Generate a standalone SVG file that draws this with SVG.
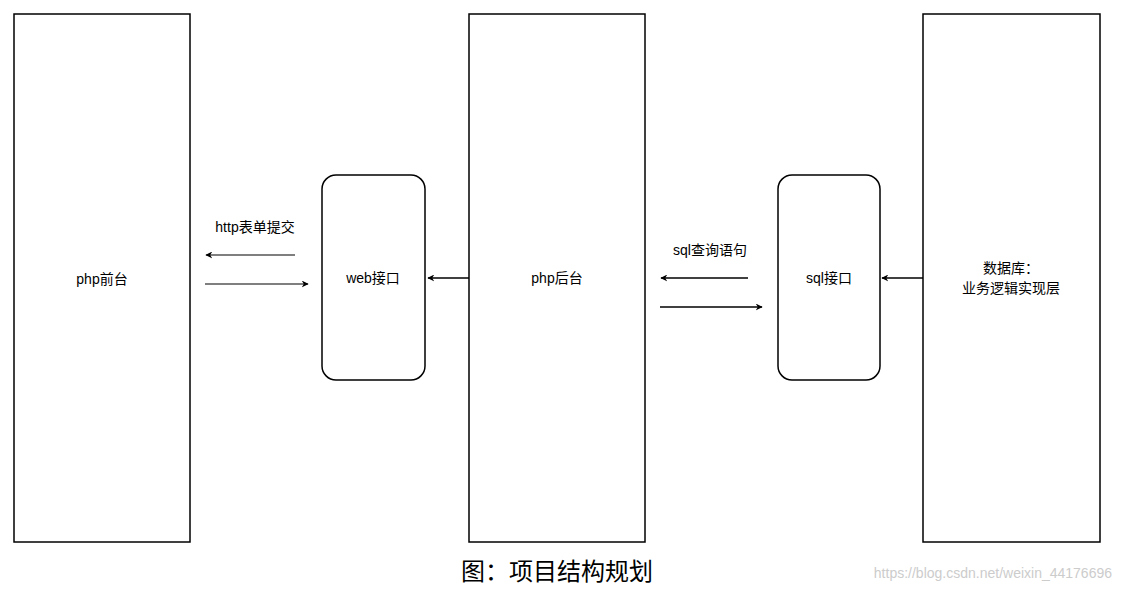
<svg xmlns="http://www.w3.org/2000/svg" width="1121" height="590" viewBox="0 0 1121 590">
<style>
.b{fill:#fff;stroke:#000;stroke-width:1.5}
.t{font-family:"Liberation Sans","Noto Sans CJK SC",sans-serif;font-size:14px;fill:#000;text-anchor:middle}
.c{stroke:#000;stroke-width:1.5;fill:none;marker-end:url(#a)}
.g{stroke:#555}
</style>
<defs><marker id="a" viewBox="0 0 10 10" refX="9" refY="5" markerWidth="7" markerHeight="7" orient="auto" markerUnits="userSpaceOnUse"><path d="M0,0L10,5L0,10L3,5Z" fill="#000"/></marker></defs>
<rect width="1121" height="590" fill="#fff"/>
<g id="front"><rect class="b" x="14" y="14" width="176" height="528"/><text class="t" x="102" y="284">php前台</text></g>
<g id="web"><rect class="b" x="322" y="175" width="103" height="205" rx="14"/><text class="t" x="373" y="283">web接口</text></g>
<g id="back"><rect class="b" x="469" y="14" width="176" height="528"/><text class="t" x="557" y="283">php后台</text></g>
<g id="sql"><rect class="b" x="778" y="175" width="102" height="205" rx="14"/><text class="t" x="829" y="283">sql接口</text></g>
<g id="db"><rect class="b" x="923" y="14" width="177" height="528"/><text class="t" x="1011" y="273">数据库：</text><text class="t" x="1011" y="293">业务逻辑实现层</text></g>
<g id="connectors">
<path class="c g" d="M295,255H206"/>
<path class="c g" d="M205,284H308"/>
<path class="c" d="M469,278H428"/>
<path class="c" d="M748,278H661"/>
<path class="c" d="M660,307H762"/>
<path class="c" d="M923,278H882"/>
<text class="t" x="255" y="232">http表单提交</text>
<text class="t" x="710" y="255">sql查询语句</text>
</g>
<text x="557" y="580" font-family="Liberation Serif,'Noto Sans CJK SC',serif" font-size="24" text-anchor="middle">图：项目结构规划</text>
<text x="1112" y="578" font-family="Liberation Sans,sans-serif" font-size="14" fill="#ccc" text-anchor="end">https://blog.csdn.net/weixin_44176696</text>
</svg>
